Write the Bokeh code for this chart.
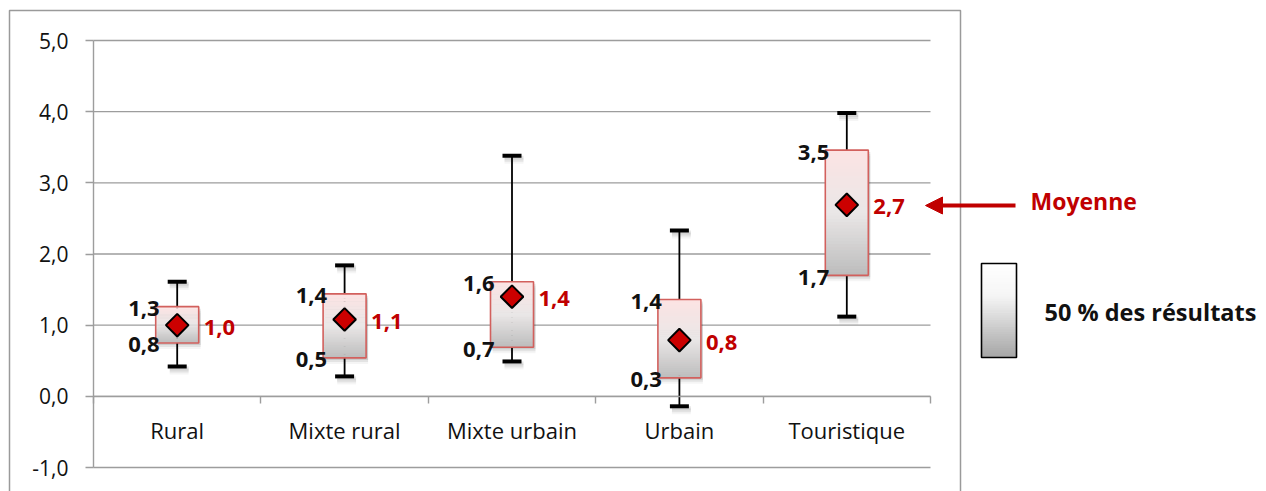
import numpy as np
from bokeh.plotting import figure
from bokeh.models import Range1d, LinearAxis, FixedTicker, Arrow, NormalHead, ColumnDataSource
from bokeh.core.properties import value
from bokeh.embed import file_html
from bokeh.resources import INLINE

# ---------------- data ----------------
categories = ["Rural", "Mixte rural", "Mixte urbain", "Urbain", "Touristique"]
whisker_low = [0.42, 0.28, 0.49, -0.14, 1.12]
q1 = [0.75, 0.54, 0.69, 0.26, 1.70]
q3 = [1.26, 1.44, 1.61, 1.36, 3.46]
whisker_high = [1.61, 1.84, 3.38, 2.33, 3.98]
mean = [1.00, 1.08, 1.40, 0.79, 2.69]
q3_labels = ["1,3", "1,4", "1,6", "1,4", "3,5"]
q1_labels = ["0,8", "0,5", "0,7", "0,3", "1,7"]
mean_labels = ["1,0", "1,1", "1,4", "0,8", "2,7"]
y_ticks = [-1, 0, 1, 2, 3, 4, 5]
y_tick_labels = ["-1,0", "0,0", "1,0", "2,0", "3,0", "4,0", "5,0"]

# ---------------- layout helpers (pixels -> data) ----------------
W, H = 1266, 491
PX_X = (930 - 93) / 5.0
PX_Y = (467 - 40) / 6.0

def dx(px):
    return 0.5 + (px - 93) / PX_X

def dy(py):
    return 5 - (py - 40) / PX_Y

FONT = "Open Sans"
RED = "#c00000"
GRID = "#9d9d9d"
n = len(categories)
xs = list(range(1, n + 1))

p = figure(width=W, height=H, output_backend="svg", toolbar_location=None,
           x_range=Range1d(dx(0), dx(W)), y_range=Range1d(dy(H), dy(0)),
           x_axis_location=None, y_axis_location=None,
           min_border=0, min_border_left=0, min_border_right=0,
           min_border_top=0, min_border_bottom=0)
p.outline_line_color = None
p.background_fill_color = "white"
p.border_fill_color = "white"
p.xgrid.visible = False
p.ygrid.visible = False

# horizontal grid lines (limited to the plot area)
p.segment([0.5] * len(y_ticks), y_ticks, [n + 0.5] * len(y_ticks), y_ticks,
          line_color=GRID, line_width=1.4)

# y axis
yticker = FixedTicker(ticks=y_ticks)
yaxis = LinearAxis(fixed_location=0.5, ticker=yticker, bounds=(-1, 5),
                   major_label_overrides={t: l for t, l in zip(y_ticks, y_tick_labels)},
                   axis_line_color=GRID, axis_line_width=1.4,
                   major_tick_line_color=GRID, major_tick_line_width=1.4,
                   major_tick_in=0, major_tick_out=8, minor_tick_line_color=None,
                   major_label_standoff=17,
                   major_label_text_font=FONT, major_label_text_font_size="21px",
                   major_label_text_color="#111111")
p.add_layout(yaxis, "left")

# x axis (line + boundary ticks at y = 0)
bounds_ticks = [i + 0.5 for i in range(n + 1)]
xaxis = LinearAxis(fixed_location=0, ticker=FixedTicker(ticks=bounds_ticks),
                   bounds=(0.5, n + 0.5),
                   axis_line_color=GRID, axis_line_width=1.4,
                   major_tick_line_color=GRID, major_tick_line_width=1.4,
                   major_tick_in=0, major_tick_out=7, minor_tick_line_color=None,
                   major_label_text_color=None)
p.add_layout(xaxis, "below")

# category labels axis
caxis = LinearAxis(fixed_location=0, ticker=FixedTicker(ticks=xs),
                   major_label_overrides={i: c for i, c in zip(xs, categories)},
                   axis_line_color=None, major_tick_line_color=None,
                   minor_tick_line_color=None, major_label_standoff=13,
                   major_label_text_font=FONT, major_label_text_font_size="22px",
                   major_label_text_color="#111111")
p.add_layout(caxis, "below")

# outer chart border
p.line([dx(9), dx(9), dx(960), dx(960)], [dy(700), dy(10), dy(10), dy(700)],
       line_color="#9a9a9a", line_width=1.5)

half_box = 43 / 2 / PX_X
half_cap = 19 / 2 / PX_X
sh_x = 2 / PX_X

# soft shadows
for off, a in ((2, 0.10), (4, 0.07), (6, 0.04)):
    p.quad(left=[x - half_box + sh_x for x in xs], right=[x + half_box + sh_x for x in xs],
           bottom=[v - off / PX_Y for v in q1], top=[v - off / PX_Y for v in q3],
           fill_color="black", fill_alpha=a, line_color=None)
    p.segment([x - half_cap + sh_x for x in xs], [v - off / PX_Y for v in whisker_high],
              [x + half_cap + sh_x for x in xs], [v - off / PX_Y for v in whisker_high],
              line_color="black", line_alpha=a, line_width=4)
    p.segment([x - half_cap + sh_x for x in xs], [v - off / PX_Y for v in whisker_low],
              [x + half_cap + sh_x for x in xs], [v - off / PX_Y for v in whisker_low],
              line_color="black", line_alpha=a, line_width=4)

# whiskers
p.segment(xs, whisker_low, xs, whisker_high, line_color="black", line_width=1.8)
p.segment([x - half_cap for x in xs], whisker_high, [x + half_cap for x in xs], whisker_high,
          line_color="black", line_width=4)
p.segment([x - half_cap for x in xs], whisker_low, [x + half_cap for x in xs], whisker_low,
          line_color="black", line_width=4)

# gradient boxes
def interp(stops, t):
    for (t0, c0), (t1, c1) in zip(stops[:-1], stops[1:]):
        if t0 <= t <= t1:
            f = (t - t0) / (t1 - t0)
            c = [round(a + (b - a) * f) for a, b in zip(c0, c1)]
            return "#%02x%02x%02x" % tuple(c)
    return "#%02x%02x%02x" % tuple(stops[-1][1])

box_stops = [(0.0, (188, 188, 188)), (0.5, (234, 231, 231)), (1.0, (252, 227, 227))]
N = 40
gl, gr, gb, gt, gc = [], [], [], [], []
for x, lo, hi in zip(xs, q1, q3):
    edges = np.linspace(lo, hi, N + 1)
    step = (hi - lo) / N
    for k in range(N):
        gl.append(x - half_box); gr.append(x + half_box)
        gb.append(edges[k])
        gt.append(edges[k + 1] + (step * 0.3 if k < N - 1 else 0))
        gc.append(interp(box_stops, (k + 0.5) / N))
p.quad(left=gl, right=gr, bottom=gb, top=gt, fill_color=gc, line_color=None)
p.quad(left=[x - half_box for x in xs], right=[x + half_box for x in xs], bottom=q1, top=q3,
       fill_color=None, line_color="#d2605d", line_width=1.6)

# mean markers
p.scatter(xs, mean, marker="square", size=16, angle=np.pi / 4, fill_color="#cc0000",
          line_color="black", line_width=2)

# data labels
src = ColumnDataSource(dict(xl=[x - half_box for x in xs], xr=[x + half_box for x in xs],
                            q1=q1, q3=q3, mean=mean, q1l=q1_labels, q3l=q3_labels, ml=mean_labels))
for col, lab in (("q3", "q3l"), ("q1", "q1l")):
    p.text(x="xl", y=col, text=lab, source=src, text_align="right", text_baseline="middle",
           x_offset=4, y_offset=2, text_font=value(FONT), text_font_style="bold",
           text_font_size="22px", text_color="#111111")
p.text(x="xr", y="mean", text="ml", source=src, text_align="left", text_baseline="middle",
       x_offset=5, y_offset=2, text_font=value(FONT), text_font_style="bold",
       text_font_size="22px", text_color=RED)

# legend: arrow + "Moyenne"
p.add_layout(Arrow(x_start=dx(1015), y_start=dy(205), x_end=dx(925), y_end=dy(205),
                   line_color=RED, line_width=4,
                   end=NormalHead(size=17, fill_color=RED, line_color=RED, line_width=1)))
p.text(x=[dx(1030)], y=[dy(200)], text=["Moyenne"], text_align="left", text_baseline="middle",
       text_font=value(FONT), text_font_style="bold", text_font_size="23px", text_color=RED)

# legend: gradient box + "50 % des résultats"
leg_stops = [(0.0, (165, 165, 165)), (0.65, (245, 245, 245)), (1.0, (255, 255, 255))]
edges = np.linspace(dy(357), dy(263), N + 1)
lstep = edges[1] - edges[0]
p.quad(left=[dx(981)] * N, right=[dx(1016)] * N, bottom=list(edges[:-1]),
       top=[e + (lstep * 0.3 if k < N - 1 else 0) for k, e in enumerate(edges[1:])],
       fill_color=[interp(leg_stops, (k + 0.5) / N) for k in range(N)], line_color=None)
p.quad(left=[dx(981)], right=[dx(1016)], bottom=[dy(357)], top=[dy(263)],
       fill_color=None, line_color="black", line_width=1.6)
p.text(x=[dx(1044)], y=[dy(311)], text=["50 % des résultats"], text_align="left",
       text_baseline="middle", text_font=value(FONT), text_font_style="bold",
       text_font_size="23.5px", text_color="#111111")

open("out.html", "w").write(file_html(p, INLINE))
